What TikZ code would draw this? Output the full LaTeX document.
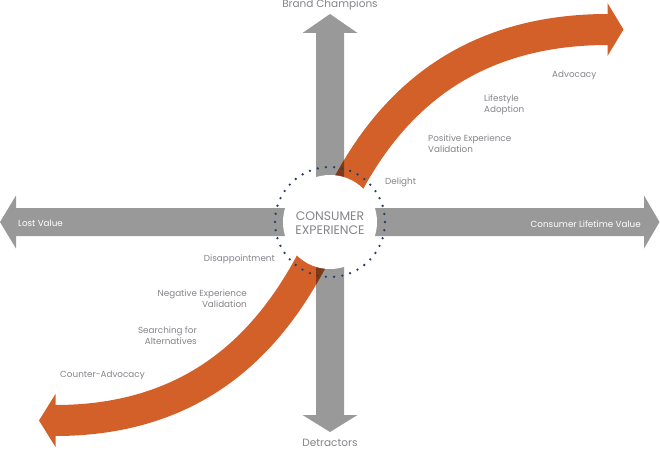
\documentclass[tikz,border=0pt]{standalone}
\usepackage{fontspec}
\setmainfont{Poppins}
\definecolor{arrowgray}{RGB}{153,153,153}
\definecolor{corange}{RGB}{210,96,40}
\definecolor{overlapc}{RGB}{126,58,24}
\definecolor{labelgray}{RGB}{132,132,138}
\definecolor{dotblue}{RGB}{40,62,98}
\begin{document}
\begin{tikzpicture}[x=1pt,y=-1pt,
  lbl/.style={font=\fontsize{8.8}{11}\selectfont, text=labelgray, inner sep=0pt},
  axislbl/.style={font=\fontsize{10.5}{12}\selectfont, text=labelgray, inner sep=0pt},
  inlbl/.style={font=\fontsize{8.8}{11}\selectfont, text=white, inner sep=0pt},
  grayarrow/.style={fill=arrowgray},
  band/.style={line width=31pt}]
\useasboundingbox (0,0) rectangle (660,449);
\coordinate (C) at (330,222);
% horizontal gray arrow
\fill[grayarrow] (0,222) -- (16,195.5) -- (16,208) -- (644,208) -- (644,195.5) -- (659.5,222)
  -- (644,248.5) -- (644,236) -- (16,236) -- (16,248.5) -- cycle;
% vertical gray arrow
\fill[grayarrow] (330,14) -- (357.5,33) -- (344,33) -- (344,415) -- (357.5,415) -- (330,432)
  -- (302.5,415) -- (316,415) -- (316,33) -- (302.5,33) -- cycle;
% orange S band
\def\bandpath{(55,420.5) .. controls (205,420.5) and (283,332.5) .. (330,222) .. controls (377,111.5) and (458,29.5) .. (608,29.5)}
\draw[band, corange] \bandpath;
\fill[corange] (607.5,3) -- (623.5,29.5) -- (607.5,56) -- cycle;
\fill[corange] (55.5,394) -- (39,420.5) -- (55.5,447) -- cycle;
\begin{scope}
  \clip (316,33) rectangle (344,415);
  \draw[band, overlapc] \bandpath;
\end{scope}
% centre disc
\fill[white] (C) circle (47);
\draw[dotblue, line width=2.6pt, line cap=round, dash pattern=on 0pt off 8.228pt] (C) circle (55);
\node[font=\fontsize{12.4}{14}\selectfont, text=labelgray, align=center] (center) at (330,223) {CONSUMER\\EXPERIENCE};
% axis labels
\node[axislbl] (brand) at (330,5) {Brand Champions};
\node[axislbl] (detr) at (330,443) {Detractors};
\node[inlbl, anchor=west] (lost) at (18,223.5) {Lost Value};
\node[inlbl, anchor=east] (clv) at (641,224) {Consumer Lifetime Value};
% stage labels
\node[lbl, anchor=west] (advocacy) at (552,75.5) {Advocacy};
\node[lbl, anchor=west, align=left] (lifestyle) at (484,105) {Lifestyle\\Adoption};
\node[lbl, anchor=west, align=left] (posval) at (428,143.5) {Positive Experience\\Validation};
\node[lbl, anchor=west] (delight) at (385,182) {Delight};
\node[lbl, anchor=east] (disapp) at (275,259.5) {Disappointment};
\node[lbl, anchor=east, align=right] (negval) at (247,298.5) {Negative Experience\\Validation};
\node[lbl, anchor=east, align=right] (search) at (197,336) {Searching for\\Alternatives};
\node[lbl, anchor=west] (counter) at (60,375) {Counter-Advocacy};
\end{tikzpicture}
\end{document}
